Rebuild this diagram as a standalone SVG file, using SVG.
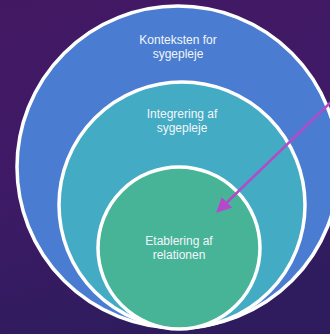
<svg xmlns="http://www.w3.org/2000/svg" width="330" height="334" viewBox="0 0 330 334">
  <defs>
    <linearGradient id="bg" x1="0" y1="0" x2="0.3" y2="1">
      <stop offset="0" stop-color="#431863"/>
      <stop offset="0.5" stop-color="#3f1a66"/>
      <stop offset="1" stop-color="#2f1c5e"/>
    </linearGradient>
    <marker id="ah" markerWidth="6" markerHeight="6" refX="5" refY="3" orient="auto" markerUnits="strokeWidth">
      <path d="M0,0 L6,3 L0,6 Z" fill="#b44ac9"/>
    </marker>
    <style>
      .ring { stroke: #ffffff; stroke-width: 3.5; }
      .lbl { font-family: "Liberation Sans", Arial, sans-serif; font-size: 12px; fill: #f2f6fa; text-anchor: middle; }
    </style>
  </defs>
  <rect x="0" y="0" width="330" height="334" fill="url(#bg)"/>
  <g id="outer">
    <circle class="ring" cx="178" cy="167" r="161" fill="#4a7dd1"/>
    <text class="lbl" x="178" y="44">Konteksten for</text>
    <text class="lbl" x="178" y="58">sygepleje</text>
  </g>
  <g id="middle">
    <circle class="ring" cx="182" cy="205" r="123" fill="#43abc3"/>
    <text class="lbl" x="182" y="118">Integrering af</text>
    <text class="lbl" x="182" y="132">sygepleje</text>
  </g>
  <g id="inner">
    <circle class="ring" cx="179" cy="248" r="81" fill="#47b498"/>
    <text class="lbl" x="179" y="245">Etablering af</text>
    <text class="lbl" x="179" y="259">relationen</text>
  </g>
  <g id="connectors">
    <line x1="333" y1="100" x2="218" y2="211" stroke="#b44ac9" stroke-width="2.5" marker-end="url(#ah)"/>
  </g>
</svg>
